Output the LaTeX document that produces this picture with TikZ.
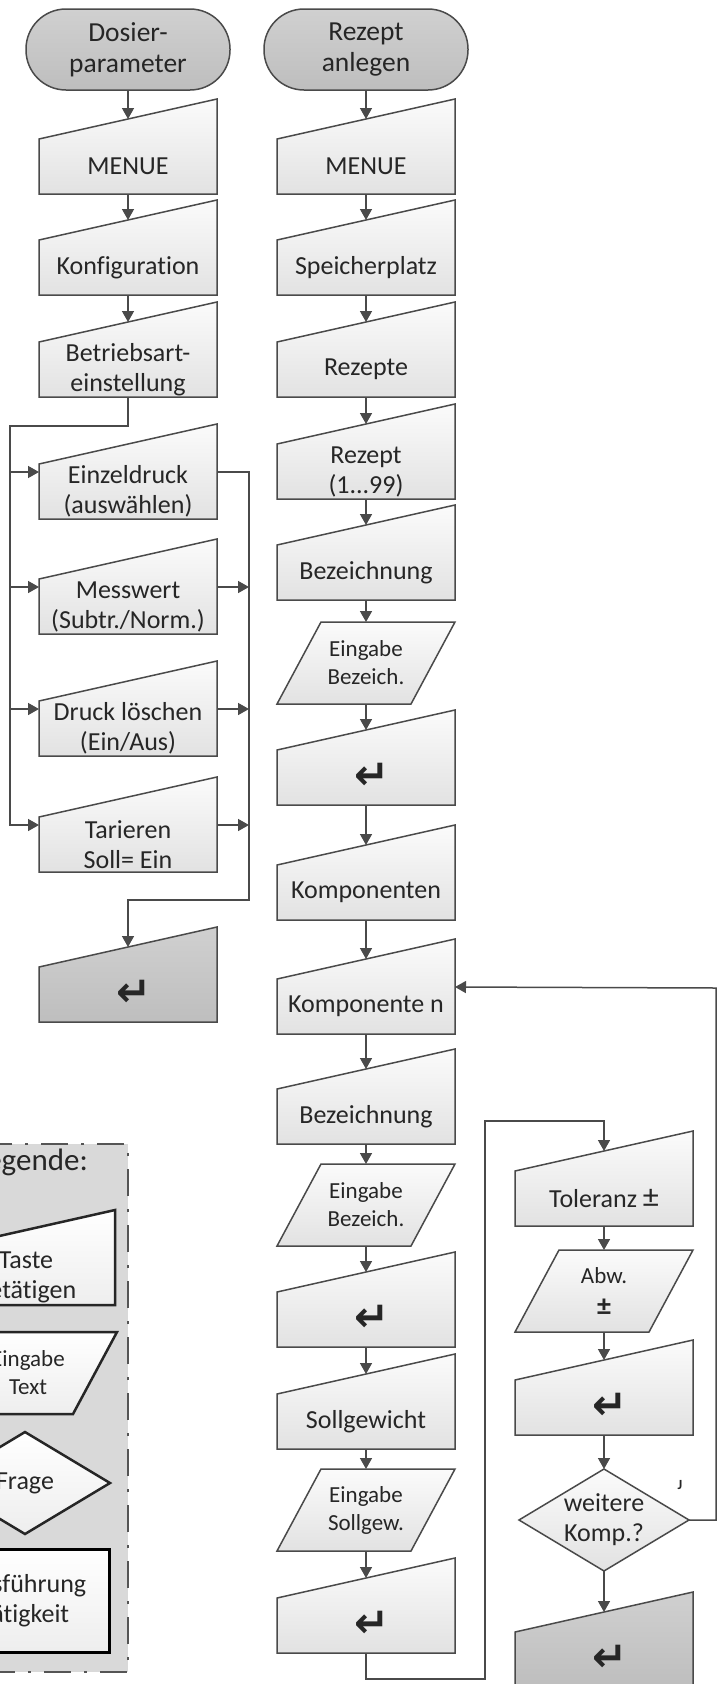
\documentclass[tikz,border=0pt]{standalone}
\usepackage{fontspec}
\setmainfont{Carlito}[Ligatures=NoCommon]
\newfontfamily\symfnt{DejaVu Sans}
\usetikzlibrary{arrows.meta}

\definecolor{strich}{HTML}{4A4A4A}
\definecolor{schrift}{HTML}{262626}
\definecolor{hell}{HTML}{FBFBFB}
\definecolor{hellunten}{HTML}{E2E2E2}
\definecolor{grauoben}{HTML}{D0D0D0}
\definecolor{grauunten}{HTML}{BEBEBE}
\definecolor{legfarbe}{HTML}{D9D9D9}
\definecolor{legrand}{HTML}{555555}

\tikzset{
  linie/.style={draw=strich, line width=1.5pt},
  pfeil/.style={linie, -{Triangle[length=11pt,width=12pt]}},
  kasten/.style={draw=strich, line width=1.5pt, top color=hell, bottom color=hellunten},
  kastengrau/.style={draw=strich, line width=1.5pt, top color=grauoben, bottom color=grauunten},
  legkasten/.style={draw=black!85, line width=2.5pt, top color=white, bottom color=hellunten!60},
  text1/.style={font=\fontsize{26}{30}\selectfont, align=center, inner sep=0pt, text=schrift},
  text2/.style={font=\fontsize{23}{28}\selectfont, align=center, inner sep=0pt, text=schrift},
  start/.style={kastengrau, rounded corners=40pt, minimum width=204pt, minimum height=81pt,
    align=center, inner sep=0pt, font=\fontsize{27.5}{31}\selectfont, text=schrift},
}

% Taste betaetigen: Trapez mit schraeger Oberkante (Mitte x, Unterkante y)
\newcommand{\taste}[5][kasten]{%
  \path[#1] (#3-89,#4) -- (#3+89,#4) -- (#3+89,#4-95) -- (#3-89,#4-55) -- cycle;
  \node[text1] (#2) at (#3,#4-27.5) {#5};
  \coordinate (#2-n) at (#3,#4-75);
  \coordinate (#2-s) at (#3,#4);
  \coordinate (#2-w) at (#3-89,#4-47);
  \coordinate (#2-e) at (#3+89,#4-47);
}
% Eingabe: Parallelogramm (Mitte x, Oberkante y)
\newcommand{\eingabe}[5][kasten]{%
  \path[#1] (#3-45,#4) -- (#3+89,#4) -- (#3+45,#4+82) -- (#3-89,#4+82) -- cycle;
  \node[text2] (#2) at (#3,#4+41) {#5};
  \coordinate (#2-n) at (#3,#4);
  \coordinate (#2-s) at (#3,#4+82);
}
% Frage: Raute (Mitte x, Mitte y)
\newcommand{\frage}[5][kasten]{%
  \path[#1] (#3,#4-51) -- (#3+85,#4) -- (#3,#4+51) -- (#3-85,#4) -- cycle;
  \node[text1] (#2) at (#3,#4) {#5};
  \coordinate (#2-n) at (#3,#4-51);
  \coordinate (#2-s) at (#3,#4+51);
  \coordinate (#2-e) at (#3+85,#4);
}
% Eingabetaste
\newcommand{\enter}{\hspace*{12pt}\raisebox{3pt}{\symfnt\bfseries\fontsize{42}{42}\selectfont ↵}}

\begin{document}
\begin{tikzpicture}[x=1pt,y=1pt,yscale=-1,xscale=1]
  % Bildausschnitt wie im Original (Legende links abgeschnitten)
  \useasboundingbox (0,0) rectangle (719,1684);
  \clip (0,0) rectangle (719,1684);

  % Legende
  \path[fill=legfarbe, draw=legrand, line width=2pt, dash pattern=on 27pt off 13pt on 3pt off 13pt]
    (-100,1144) rectangle (128,1672);
  \node[anchor=east, inner sep=0pt, text=schrift, font=\fontsize{31}{31}\selectfont] (legtitel) at (88,1162) {Legende:};
  \taste[legkasten]{legtaste}{26}{1305}{Taste\\betätigen}
  \eingabe[legkasten]{legeingabe}{28}{1332}{Eingabe\\Text}
  \frage[legkasten]{legfrage}{25}{1483}{Frage}
  \node[text1, draw=black, line width=3pt, top color=white, bottom color=hellunten!60,
    minimum width=168pt, minimum height=103pt] (legausf) at (25,1600.5) {Ausführung\\Tätigkeit};

  % Linke Spalte: Dosierparameter
  \node[start] (start1) at (128,49.5) {Dosier-\\parameter};
  \taste{menu1}{128}{194}{MENUE}
  \taste{konf}{128}{295}{Konfiguration}
  \taste{betr}{128}{397}{Betriebsart-\\einstellung}
  \taste{einz}{128}{519}{Einzeldruck\\(auswählen)}
  \taste{mess}{128}{634}{Messwert\\(Subtr./Norm.)}
  \taste{druck}{128}{756}{Druck löschen\\(Ein/Aus)}
  \taste{tara}{128}{872}{Tarieren\\Soll= Ein}
  \taste[kastengrau]{ende1}{128}{1022}{\enter}

  % Verbindungen links
  \coordinate (bus) at (10,426);
  \coordinate (sammel) at (249,900);
  \draw[pfeil] (start1) -- (menu1-n);
  \draw[pfeil] (menu1-s) -- (konf-n);
  \draw[pfeil] (konf-s) -- (betr-n);
  \draw[pfeil] (betr-s) |- (bus) |- (tara-w);
  \draw[pfeil] (bus |- einz-w) -- (einz-w);
  \draw[pfeil] (bus |- mess-w) -- (mess-w);
  \draw[pfeil] (bus |- druck-w) -- (druck-w);
  \draw[pfeil] (einz-e) -| (sammel) -| (ende1-n);
  \draw[pfeil] (mess-e) -- (sammel |- mess-e);
  \draw[pfeil] (druck-e) -- (sammel |- druck-e);
  \draw[pfeil] (tara-e) -- (sammel |- tara-e);

  % Rechte Spalte: Rezept anlegen
  \node[start] (start2) at (366,49.5) {Rezept\\anlegen};
  \taste{menu2}{366}{194}{MENUE}
  \taste{speich}{366}{295}{Speicherplatz}
  \taste{rez}{366}{397}{Rezepte}
  \taste{reznr}{366}{499}{Rezept\\(1...99)}
  \taste{bez1}{366}{600}{Bezeichnung}
  \eingabe{ein1}{366}{622}{Eingabe\\Bezeich.}
  \taste{ent1}{366}{805}{\enter}
  \taste{komp}{366}{920}{Komponenten}
  \taste{kompn}{366}{1034}{Komponente n}
  \taste{bez2}{366}{1144}{Bezeichnung}
  \eingabe{ein2}{366}{1164}{Eingabe\\Bezeich.}
  \taste{ent2}{366}{1347}{\enter}
  \taste{soll}{366}{1449}{Sollgewicht}
  \eingabe{ein3}{366}{1469}{Eingabe\\Sollgew.}
  \taste{ent3}{366}{1653}{\enter}

  % Toleranz-Zweig
  \taste{tol}{604}{1226}{Toleranz {\fontsize{32}{30}\selectfont ±}}
  \eingabe{abw}{604}{1250}{Abw.\\[4pt]{\bfseries\fontsize{28}{28}\selectfont ±}}
  \taste{ent4}{604}{1435}{\enter}
  \frage{weiter}{604}{1520}{weitere\\Komp.?}
  \taste[kastengrau]{ende2}{604}{1687}{\enter}
  \node[inner sep=0pt, text=schrift, font=\bfseries\fontsize{14}{14}\selectfont] (ja) at (680,1485) {J};

  % Verbindungen rechts
  \draw[pfeil] (start2) -- (menu2-n);
  \draw[pfeil] (menu2-s) -- (speich-n);
  \draw[pfeil] (speich-s) -- (rez-n);
  \draw[pfeil] (rez-s) -- (reznr-n);
  \draw[pfeil] (reznr-s) -- (bez1-n);
  \draw[pfeil] (bez1-s) -- (ein1-n);
  \draw[pfeil] (ein1-s) -- (ent1-n);
  \draw[pfeil] (ent1-s) -- (komp-n);
  \draw[pfeil] (komp-s) -- (kompn-n);
  \draw[pfeil] (kompn-s) -- (bez2-n);
  \draw[pfeil] (bez2-s) -- (ein2-n);
  \draw[pfeil] (ein2-s) -- (ent2-n);
  \draw[pfeil] (ent2-s) -- (soll-n);
  \draw[pfeil] (soll-s) -- (ein3-n);
  \draw[pfeil] (ein3-s) -- (ent3-n);
  \coordinate (unten) at (485,1679);
  \coordinate (oben) at (485,1121);
  \draw[pfeil] (ent3-s) |- (unten) -- (oben) -| (tol-n);
  \draw[pfeil] (tol-s) -- (abw-n);
  \draw[pfeil] (abw-s) -- (ent4-n);
  \draw[pfeil] (ent4-s) -- (weiter-n);
  \draw[pfeil] (weiter-s) -- (ende2-n);
  \coordinate (rueck) at (716,988);
  \draw[pfeil] (weiter-e) -| (rueck) -- (kompn-e);
\end{tikzpicture}
\end{document}
